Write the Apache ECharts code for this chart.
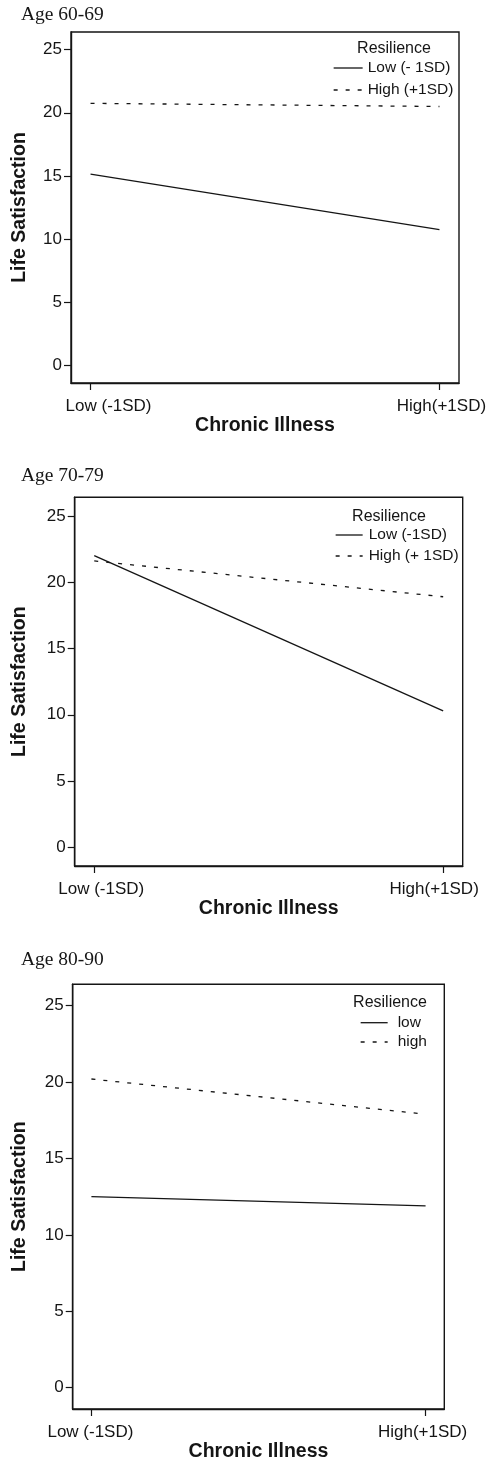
<!DOCTYPE html>
<html>
<head>
<meta charset="utf-8">
<script src="https://cdn.jsdelivr.net/npm/echarts@6/dist/echarts.min.js"></script>
<style>
html,body{margin:0;padding:0;background:#fff;}
#c{width:496px;height:1463px;}
</style>
</head>
<body>
<div id="c"></div>
<script>
// ---- data ----
const categories = ['Low (-1SD)', 'High(+1SD)'];
const xPositions = [0, 1];
const yTicks = [0, 5, 10, 15, 20, 25];
const panelTitles = ['Age 60-69', 'Age 70-79', 'Age 80-90'];
const lowNames = ['Low (- 1SD)', 'Low (-1SD)', 'low'];
const highNames = ['High (+1SD)', 'High (+ 1SD)', 'high'];
const age6069Low = [15.15, 10.75];
const age6069High = [20.75, 20.5];
const age7079Low = [22.0, 10.3];
const age7079High = [21.6, 18.9];
const age8090Low = [12.5, 11.9];
const age8090High = [20.2, 17.9];
const lowSeries = [age6069Low, age7079Low, age8090Low];
const highSeries = [age6069High, age7079High, age8090High];

// ---- layout ----
const grids = [
  {left: 71, top: 32, width: 388, height: 351},
  {left: 74.7, top: 497.3, width: 388, height: 368.7},
  {left: 72.7, top: 984.3, width: 371.6, height: 424.7}
];
const titlePos = [[21, 14.5], [21, 476], [21, 959.5]];
const resPos = [[394, 49], [389, 516.7], [390, 1003]];
const legendPos = [
  {left: 333, top: 60, itemWidth: 29, gap: 6, textPad: 0},
  {left: 335, top: 527, itemWidth: 27, gap: 5, textPad: 1},
  {left: 360, top: 1014.7, itemWidth: 27, gap: 3.3, textPad: 5}
];
const labelShift = [[18, 2], [7, -9], [-1, -3]];
const xNameGap = [32, 30.7, 32.7];
const yNameGap = [41.5, 45, 43];

const ink = '#151515';
const sans = '"Liberation Sans", Arial, Helvetica, sans-serif';
const serif = '"Liberation Serif", "Times New Roman", serif';

function pad(shift) {
  return shift >= 0 ? [0, 0, 0, 2 * shift] : [0, -2 * shift, 0, 0];
}

const option = {
  animation: false,
  backgroundColor: '#fff',
  grid: grids.map(g => Object.assign({show: true, borderColor: ink, borderWidth: 1.4, backgroundColor: 'transparent'}, g)),
  xAxis: grids.map((g, i) => ({
    type: 'value', gridIndex: i, min: -0.056, max: 1.056,
    splitLine: {show: false},
    axisLine: {show: true, onZero: false, lineStyle: {color: ink, width: 1.4}},
    axisTick: {show: true, customValues: xPositions, length: 7, lineStyle: {color: ink, width: 1.2}},
    axisLabel: {
      customValues: xPositions, margin: 15, color: ink, fontFamily: sans, fontSize: 17,
      formatter: v => (v < 0.5 ? '{a|' + categories[0] + '}' : '{b|' + categories[1] + '}'),
      rich: {
        a: {fontFamily: sans, fontSize: 17, color: ink, padding: pad(labelShift[i][0])},
        b: {fontFamily: sans, fontSize: 17, color: ink, padding: pad(labelShift[i][1])}
      }
    },
    name: 'Chronic Illness', nameLocation: 'middle', nameGap: xNameGap[i],
    nameTextStyle: {fontFamily: sans, fontSize: 19.5, fontWeight: 'bold', color: ink}
  })),
  yAxis: grids.map((g, i) => ({
    type: 'value', gridIndex: i, min: -1.4, max: 26.4,
    splitLine: {show: false},
    axisLine: {show: true, onZero: false, lineStyle: {color: ink, width: 1.4}},
    axisTick: {show: true, customValues: yTicks, length: 7, lineStyle: {color: ink, width: 1.2}},
    axisLabel: {customValues: yTicks, margin: 9, color: ink, fontFamily: sans, fontSize: 17},
    name: 'Life Satisfaction', nameLocation: 'middle', nameRotate: 90, nameGap: yNameGap[i],
    nameTextStyle: {fontFamily: sans, fontSize: 19.5, fontWeight: 'bold', color: ink}
  })),
  legend: legendPos.map((L, i) => ({
    orient: 'vertical', left: L.left, top: L.top, padding: 0,
    itemWidth: L.itemWidth, itemHeight: 14, itemGap: L.gap,
    selectedMode: false,
    itemStyle: {color: 'rgba(0,0,0,0)', borderWidth: 0, opacity: 0},
    lineStyle: {color: ink, width: 1.3},
    data: [lowNames[i], highNames[i]],
    textStyle: {fontFamily: sans, fontSize: 15.5, color: ink, lineHeight: 14, padding: [0, 0, 0, L.textPad]}
  })),
  series: [].concat(...grids.map((g, i) => [
    {
      type: 'line', name: lowNames[i], xAxisIndex: i, yAxisIndex: i,
      symbol: 'none', silent: true,
      data: xPositions.map((x, k) => [x, lowSeries[i][k]]),
      lineStyle: {color: ink, width: 1.3, type: 'solid'},
      itemStyle: {color: ink}
    },
    {
      type: 'line', name: highNames[i], xAxisIndex: i, yAxisIndex: i,
      symbol: 'none', silent: true,
      data: xPositions.map((x, k) => [x, highSeries[i][k]]),
      lineStyle: {color: ink, width: 1.3, type: [4, 8]},
      itemStyle: {color: ink}
    }
  ])),
  graphic: [].concat(
    panelTitles.map((t, i) => ({
      type: 'text', x: titlePos[i][0], y: titlePos[i][1],
      style: {text: t, font: '19.5px ' + serif, fill: ink, align: 'left', verticalAlign: 'middle'}
    })),
    resPos.map(p => ({
      type: 'text', x: p[0], y: p[1],
      style: {text: 'Resilience', font: '16px ' + sans, fill: ink, align: 'center', verticalAlign: 'middle'}
    }))
  )
};

const chart = echarts.init(document.getElementById('c'), null, {renderer: 'canvas'});
chart.setOption(option);
</script>
</body>
</html>
